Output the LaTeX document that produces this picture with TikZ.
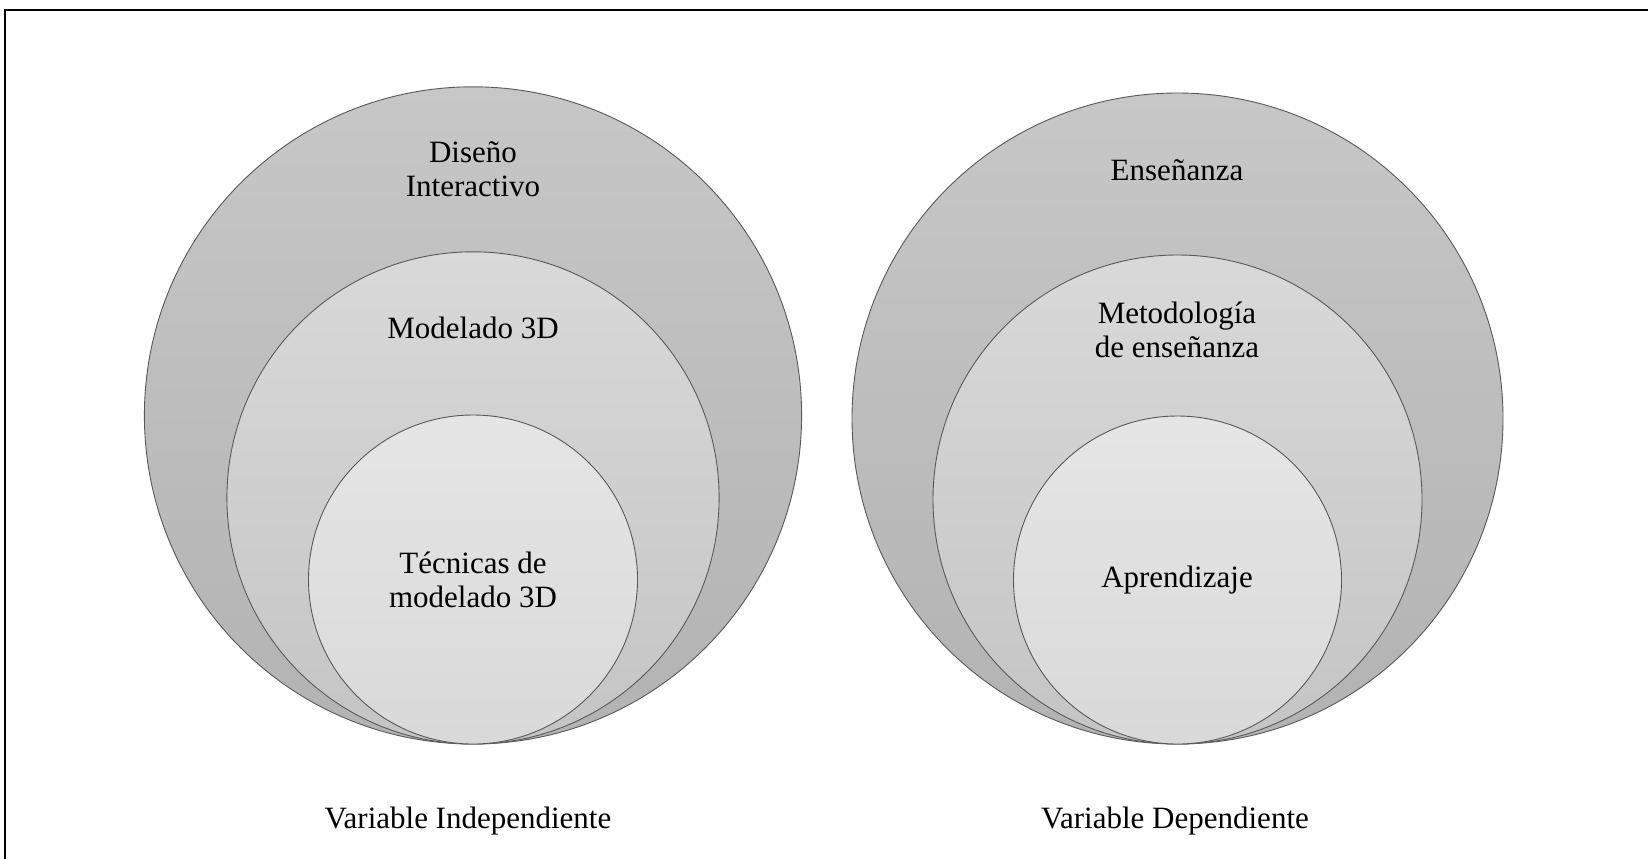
\documentclass[tikz,border=0pt]{standalone}
\usepackage{fontspec}
\setmainfont{Liberation Serif}
\begin{document}
\begin{tikzpicture}[x=0.5pt,y=-0.5pt,
  ring/.style={circle,draw=black!65,line width=0.45pt,inner sep=0pt},
  outerring/.style={ring,top color=black!22,bottom color=black!30},
  midring/.style={ring,top color=black!15,bottom color=black!23},
  innerring/.style={ring,top color=black!10,bottom color=black!15},
  lbl/.style={align=center,font=\fontsize{15.5}{17}\selectfont,inner sep=0pt}]
\useasboundingbox (0,0) rectangle (1648,858);
\begin{scope}
\clip (0,0) rectangle (1648,858);
\draw[line width=1.3pt] (5,10) rectangle (1720,920);
\end{scope}
% left set
\node[outerring,minimum size=328.6pt] (LO) at (473,415.4) {};
\node[midring,minimum size=246.1pt] (LM) at (473,497.9) {};
\node[innerring,minimum size=164.5pt] (LI) at (473,579.5) {};
% right set
\node[outerring,minimum size=325.5pt] (RO) at (1177.5,418.5) {};
\node[midring,minimum size=244.5pt] (RM) at (1177.5,499.5) {};
\node[innerring,minimum size=164pt] (RI) at (1177.5,580) {};
% labels
\node[lbl] (t1) at (473,169) {Diseño\\Interactivo};
\node[lbl] (t2) at (473,328) {Modelado 3D};
\node[lbl] (t3) at (473,580) {Técnicas de\\modelado 3D};
\node[lbl] (t4) at (1177,170) {Enseñanza};
\node[lbl] (t5) at (1177,329.5) {Metodología\\de enseñanza};
\node[lbl] (t6) at (1177,580.5) {Aprendizaje};
\node[lbl] (v1) at (468,821) {Variable Independiente};
\node[lbl] (v2) at (1175,821) {Variable Dependiente};
\end{tikzpicture}
\end{document}
